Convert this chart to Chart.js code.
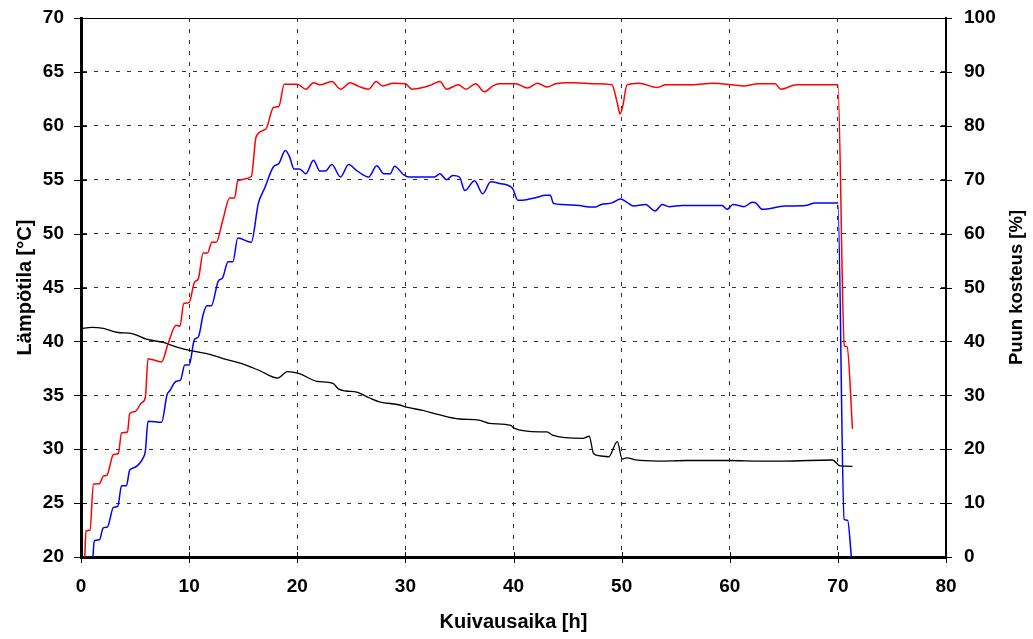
<!DOCTYPE html>
<html>
<head>
<meta charset="utf-8">
<script src="https://cdn.jsdelivr.net/npm/chart.js@4.4.1/dist/chart.umd.min.js"></script>
<style>
  html, body { margin: 0; padding: 0; background: #fff; }
  canvas { display: block; }
</style>
</head>
<body>
<canvas id="kuivaus" width="1033" height="639"></canvas>
<script>
// Kiln drying run: dry bulb (red) and wet bulb (blue) temperature, wood moisture (black)
const dryTime = [0.35, 0.46, 0.83, 1.15, 1.7, 2.06, 2.4, 3.0, 3.45, 3.75, 4.3, 4.5, 5.0, 5.6, 5.95, 6.2,
    7.45, 8.06, 8.8, 9.15, 9.5, 10.0, 10.5, 10.85, 11.3, 11.7, 12.1, 12.5, 13.1, 13.75, 14.2, 14.5,
    15.75, 16.2, 17.1, 17.8, 18.3, 18.8, 19.5, 20.0, 20.8, 21.5, 22.1, 23.2, 24.0, 24.9, 25.6, 26.6,
    27.3, 27.9, 28.9, 30.0, 30.6, 31.6, 32.4, 33.2, 33.8, 34.9, 35.6, 36.5, 37.3, 38.1, 38.7, 40.2,
    41.3, 42.2, 43.1, 43.9, 45.0, 45.6, 47.6, 49.1, 49.6, 49.85, 50.1, 50.5, 51.6, 53.3, 54.1, 56.5,
    58.4, 61.4, 62.6, 64.2, 64.7, 66.2, 70.0, 70.6, 70.85, 71.35];
const dryTemp = [20, 22.4, 22.5, 26.75, 26.8, 27.5, 27.6, 29.5, 29.6, 31.5, 31.6, 33.3, 33.5, 34.3, 34.8, 38.4,
    38.1, 39.8, 41.5, 41.4, 43.5, 43.6, 45.5, 45.8, 48.2, 48.2, 49.2, 49.2, 51.2, 53.3, 53.3, 54.9,
    55.3, 59.0, 59.7, 61.7, 61.8, 63.85, 63.85, 63.85, 63.4, 64.0, 63.8, 64.1, 63.4, 64.0, 63.7, 63.4,
    64.1, 63.7, 63.95, 63.9, 63.4, 63.55, 63.8, 64.1, 63.4, 63.8, 63.4, 63.9, 63.15, 63.7, 63.9, 63.9,
    63.5, 63.95, 63.6, 63.9, 64.0, 64.0, 63.9, 63.8, 62.1, 61.1, 61.8, 63.8, 63.95, 63.55, 63.8, 63.8,
    63.95, 63.7, 63.9, 63.9, 63.4, 63.8, 63.8, 39.6, 39.5, 31.9];

const wetTime = [1.1, 1.23, 1.7, 2.06, 2.45, 3.0, 3.4, 3.75, 4.2, 4.5, 4.95, 5.75, 5.95, 6.2, 7.45, 7.97,
    8.2, 8.8, 9.2, 9.6, 10.0, 10.5, 10.85, 11.3, 11.65, 12.05, 12.7, 13.1, 13.6, 14.05, 14.5, 15.75,
    16.4, 17.0, 17.8, 18.3, 18.9, 19.3, 19.7, 20.2, 20.8, 21.5, 22.1, 22.6, 23.2, 24.0, 24.75, 25.5,
    26.6, 27.35, 28.0, 28.6, 29.0, 29.8, 30.3, 32.7, 33.2, 33.8, 34.4, 35.0, 35.5, 36.4, 37.15, 37.9,
    38.7, 39.9, 40.4, 41.2, 42.05, 43.0, 43.4, 43.7, 44.5, 46.1, 47.0, 47.6, 48.1, 49.1, 49.9, 50.5,
    51.1, 52.2, 53.1, 53.75, 54.4, 55.6, 59.3, 59.75, 60.3, 61.3, 62.1, 62.4, 63.0, 65.1, 67.0, 67.9,
    70.0, 70.58, 70.9, 71.25];
const wetTemp = [20, 21.5, 21.6, 22.7, 22.8, 24.6, 24.7, 26.6, 26.6, 28.05, 28.3, 29.2, 29.8, 32.6, 32.5, 35.1,
    35.4, 36.3, 36.4, 37.8, 37.8, 40.2, 40.4, 42.5, 43.3, 43.3, 45.6, 45.9, 47.4, 47.4, 49.6, 49.2,
    52.8, 54.25, 56.2, 56.5, 57.7, 57.1, 56.0, 56.0, 55.55, 56.8, 55.8, 55.8, 56.4, 55.25, 56.4, 55.85,
    55.25, 56.3, 55.55, 55.55, 56.25, 55.5, 55.25, 55.25, 55.55, 55.0, 55.4, 55.25, 54.0, 54.9, 53.7, 54.8,
    54.65, 54.2, 53.1, 53.15, 53.33, 53.55, 53.55, 52.8, 52.7, 52.6, 52.46, 52.46, 52.7, 52.85, 53.2, 52.9,
    52.55, 52.7, 52.1, 52.7, 52.5, 52.6, 52.6, 52.25, 52.7, 52.5, 52.9, 52.85, 52.25, 52.55, 52.6, 52.85,
    52.85, 23.5, 23.4, 20];

const moistTime = [0, 1.0, 2.06, 3.3, 4.8, 6.06, 7.6, 9.1, 10.4, 11.9, 13.5, 15.0, 16.5, 18.2, 19.1, 20.2,
    21.8, 23.3, 23.8, 24.5, 25.5, 26.7, 27.6, 29.5, 30.1, 31.6, 33.1, 35.0, 36.8, 37.75, 39.75, 40.05,
    42.4, 43.1, 43.6, 46.4, 47.0, 47.4, 47.9, 48.8, 49.6, 50.05, 50.5, 51.3, 53.4, 56.0, 60.0, 63.0,
    65.0, 69.5, 70.2, 71.35];
const moistValue = [42.4, 42.6, 42.4, 41.7, 41.4, 40.4, 39.8, 38.8, 38.2, 37.6, 36.6, 35.8, 34.6, 33.2, 34.4, 34.0,
    32.6, 32.2, 31.2, 30.8, 30.6, 29.5, 28.8, 28.2, 27.8, 27.2, 26.4, 25.6, 25.4, 24.8, 24.4, 23.9,
    23.2, 23.2, 22.6, 22.0, 22.4, 19.2, 18.8, 18.6, 21.4, 18.2, 18.4, 18.0, 17.8, 17.9, 17.9, 17.8,
    17.8, 18.0, 16.9, 16.8];

const xTicks = [0, 10, 20, 30, 40, 50, 60, 70, 80];
const tempTicks = [20, 25, 30, 35, 40, 45, 50, 55, 60, 65, 70];
const moistTicks = [0, 10, 20, 30, 40, 50, 60, 70, 80, 90, 100];

const toPoints = (xs, ys) => xs.map((x, i) => ({ x: x, y: ys[i] }));

const FONT = "'Liberation Sans', Arial, sans-serif";
Chart.defaults.font.family = FONT;
Chart.defaults.color = '#000';

// fixed axis sizes so the plot box keeps its place
const fixSize = (w, h) => (s) => {
    if (w !== null) s.width = w;
    if (h !== null) s.height = h;
    s.paddingTop = 0;
    s.paddingBottom = 0;
    s.paddingLeft = 0;
    s.paddingRight = 0;
};

// frame top edge, tick marks crossing the axes and the axis titles
const frame = {
    id: 'frame',
    afterDraw(chart) {
        const ctx = chart.ctx;
        const a = chart.chartArea;
        const sx = chart.scales.x, sy = chart.scales.y, sy2 = chart.scales.y2;
        ctx.save();
        ctx.strokeStyle = '#000';
        ctx.lineWidth = 1;
        ctx.beginPath();
        ctx.moveTo(a.left, a.top + 0.5);
        ctx.lineTo(a.right, a.top + 0.5);
        ctx.stroke();

        ctx.beginPath();
        xTicks.forEach(v => {
            const px = Math.round(sx.getPixelForValue(v)) + 0.5;
            ctx.moveTo(px, a.bottom - 5);
            ctx.lineTo(px, a.bottom + 6);
        });
        tempTicks.forEach(v => {
            const py = Math.round(sy.getPixelForValue(v)) + 0.5;
            ctx.moveTo(a.left - 7, py);
            ctx.lineTo(a.left + 6, py);
        });
        moistTicks.forEach(v => {
            const py = Math.round(sy2.getPixelForValue(v)) + 0.5;
            ctx.moveTo(a.right - 6, py);
            ctx.lineTo(a.right + 6, py);
        });
        ctx.stroke();

        ctx.fillStyle = '#000';
        ctx.textAlign = 'center';
        ctx.textBaseline = 'alphabetic';
        ctx.font = 'bold 20px ' + FONT;
        ctx.fillText('Kuivausaika [h]', (a.left + a.right) / 2, 628);

        const midY = (a.top + a.bottom) / 2;
        ctx.save();
        ctx.translate(31, midY);
        ctx.rotate(-Math.PI / 2);
        ctx.fillText('Lämpötila [°C]', 0, 0);
        ctx.restore();

        ctx.save();
        ctx.translate(1022, midY);
        ctx.rotate(-Math.PI / 2);
        ctx.font = 'bold 18.5px ' + FONT;
        ctx.fillText('Puun kosteus [%]', 0, 0);
        ctx.restore();
        ctx.restore();
    }
};

const gridDash = [4, 7];

new Chart(document.getElementById('kuivaus').getContext('2d'), {
    type: 'line',
    data: {
        datasets: [{
            label: 'Kuiva lämpötila',
            data: toPoints(dryTime, dryTemp),
            borderColor: '#ff0000',
            borderWidth: 1.5,
            yAxisID: 'y'
        }, {
            label: 'Märkä lämpötila',
            data: toPoints(wetTime, wetTemp),
            borderColor: '#0000ff',
            borderWidth: 1.5,
            yAxisID: 'y'
        }, {
            label: 'Puun kosteus',
            data: toPoints(moistTime, moistValue),
            borderColor: '#000000',
            borderWidth: 1.3,
            yAxisID: 'y2'
        }]
    },
    options: {
        responsive: false,
        animation: false,
        layout: { padding: { top: 18, left: 0, right: 0, bottom: 0 } },
        elements: {
            point: { radius: 0 },
            line: { cubicInterpolationMode: 'monotone', fill: false }
        },
        plugins: {
            legend: { display: false },
            tooltip: { enabled: false }
        },
        scales: {
            x: {
                type: 'linear',
                min: 0, max: 80,
                afterFit: fixSize(null, 82),
                ticks: { stepSize: 10, padding: 18, font: { size: 19, weight: 'bold' } },
                grid: { color: '#333', lineWidth: 1, drawTicks: false },
                border: { color: '#000', width: 3, dash: gridDash }
            },
            y: {
                position: 'left',
                min: 20, max: 70,
                afterFit: fixSize(81, null),
                ticks: { stepSize: 5, padding: 17, font: { size: 19, weight: 'bold' } },
                grid: { color: '#333', lineWidth: 1, drawTicks: false },
                border: { color: '#000', width: 3, dash: gridDash }
            },
            y2: {
                position: 'right',
                min: 0, max: 100,
                afterFit: fixSize(87, null),
                ticks: { stepSize: 10, padding: 18, font: { size: 19, weight: 'bold' } },
                grid: { drawOnChartArea: false, drawTicks: false },
                border: { color: '#000', width: 2 }
            }
        }
    },
    plugins: [frame]
});
</script>
</body>
</html>
